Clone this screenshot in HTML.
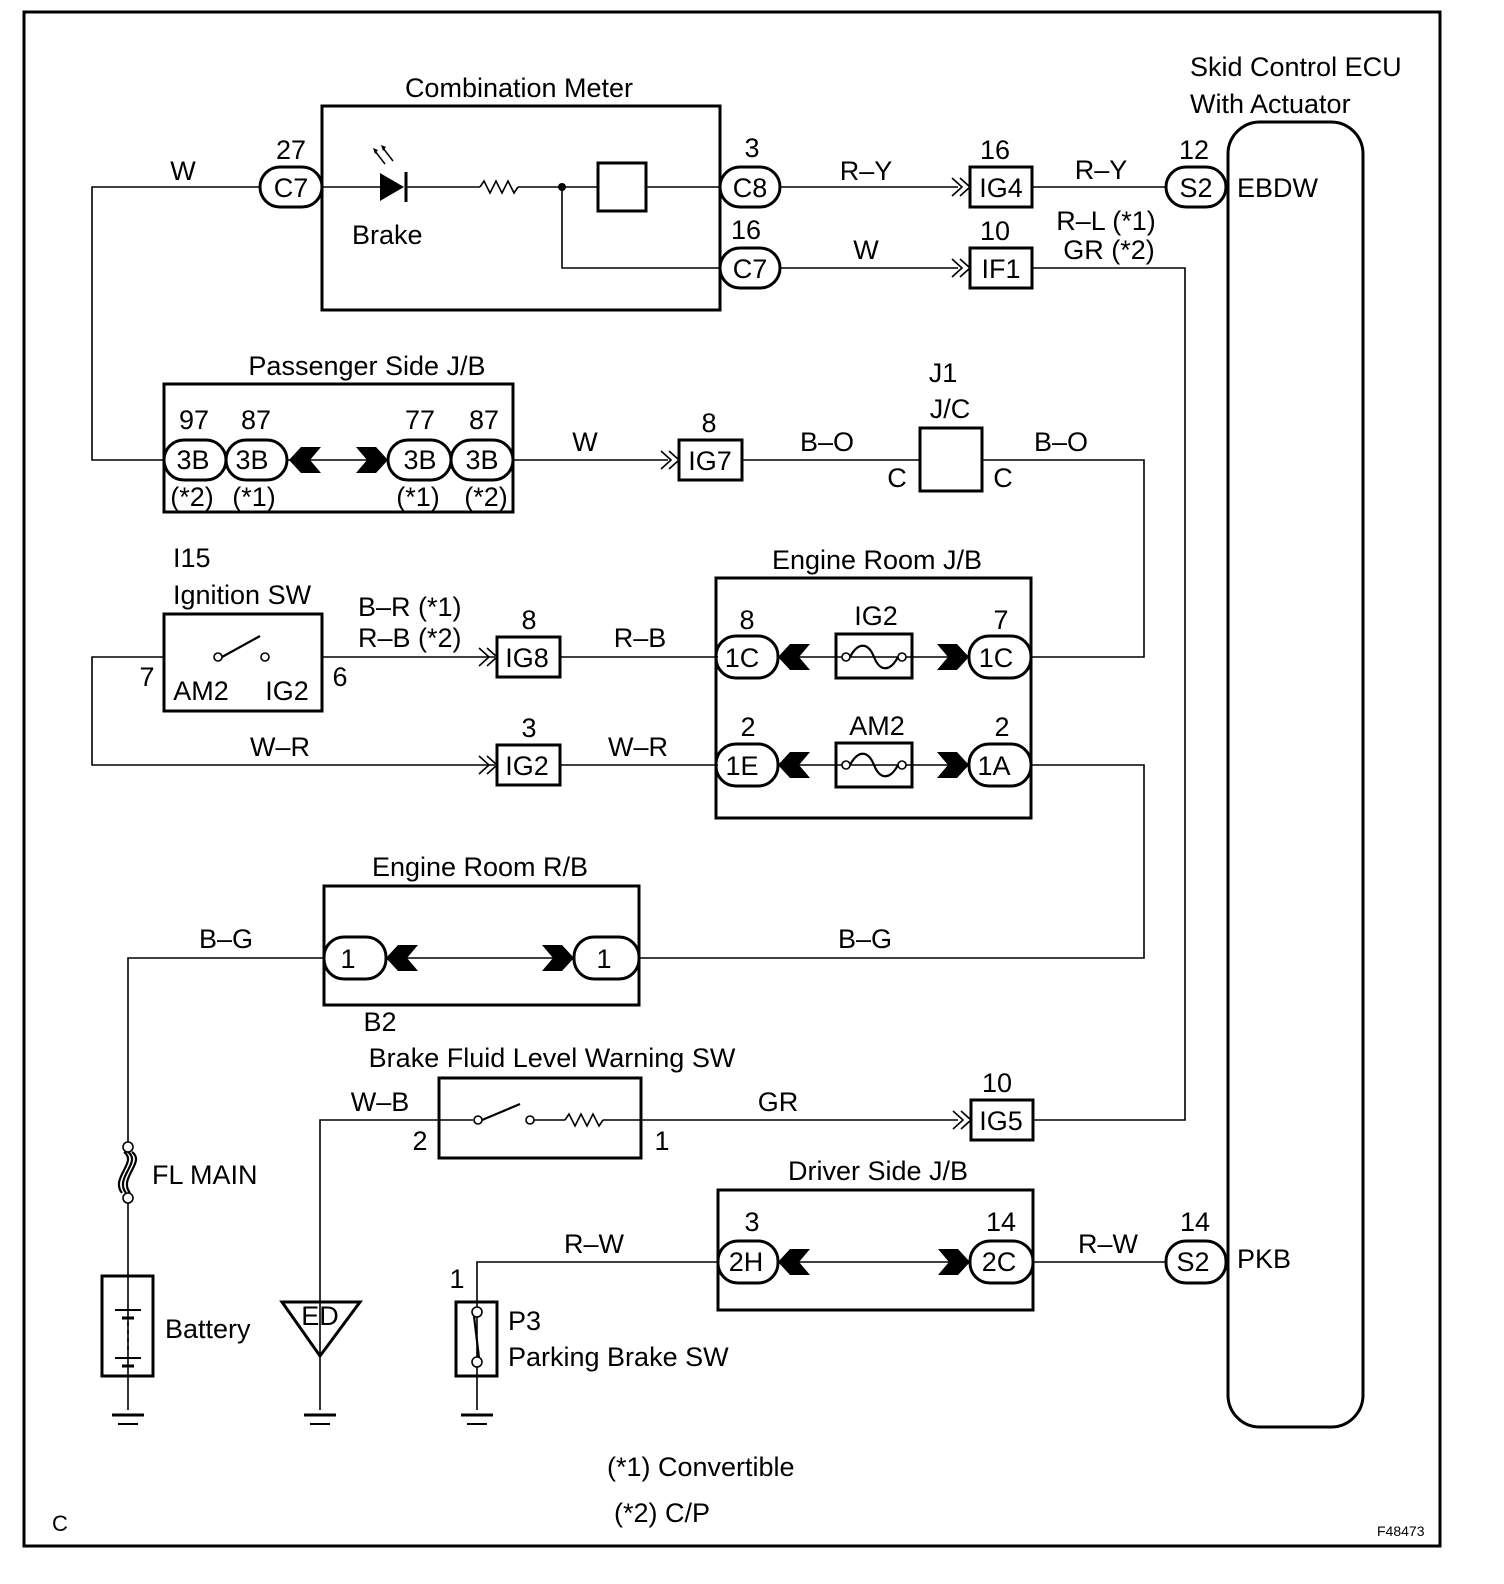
<!DOCTYPE html>
<html><head><meta charset="utf-8"><style>
html,body{margin:0;padding:0;background:#fff;width:1504px;height:1584px;overflow:hidden}
svg{display:block;position:absolute;left:0;top:0}
text{font-family:"Liberation Sans",Arial,sans-serif;font-size:27px;fill:#000}
</style></head><body>
<svg width="1504" height="1584" viewBox="0 0 1504 1584" xmlns="http://www.w3.org/2000/svg">
<defs>
<g id="la"><polygon points="0,0 12,-13 32,-13 21,0 32,13 12,13" fill="#000"/></g>
<g id="ra"><polygon points="0,0 -12,-13 -32,-13 -21,0 -32,13 -12,13" fill="#000"/></g>
<g id="dd"><polyline points="-14,-9 -4,0 -14,9" fill="none" stroke="#000" stroke-width="1.6"/><polyline points="-6,-9 4,0 -6,9" fill="none" stroke="#000" stroke-width="1.6"/></g>
<g id="gnd"><line x1="-16" y1="0" x2="16" y2="0" stroke="#000" stroke-width="3"/><line x1="-10" y1="9" x2="10" y2="9" stroke="#000" stroke-width="2"/></g>
</defs>
<rect x="24" y="12" width="1416" height="1534" fill="none" stroke="#000" stroke-width="3"/>
<g fill="none" stroke="#000" stroke-width="1.6">
<polyline points="260,187 92,187 92,460 164,460"/>
<line x1="322" y1="187" x2="380" y2="187"/>
<line x1="406" y1="187" x2="480" y2="187"/>
<line x1="518" y1="187" x2="598" y2="187"/>
<polyline points="562,187 562,268 720,268"/>
<line x1="646" y1="187" x2="720" y2="187"/>
<line x1="780" y1="187" x2="958" y2="187"/>
<line x1="780" y1="268" x2="958" y2="268"/>
<line x1="1032" y1="187" x2="1166" y2="187"/>
<polyline points="1032,268 1185,268 1185,1120 1033,1120"/>
<line x1="287" y1="460" x2="388" y2="460"/>
<line x1="513" y1="460" x2="668" y2="460"/>
<line x1="742" y1="460" x2="920" y2="460"/>
<polyline points="982,460 1144,460 1144,657 1031,657"/>
<polyline points="164,657 92,657 92,765 495,765"/>
<line x1="322" y1="657" x2="495" y2="657"/>
<line x1="560" y1="657" x2="718" y2="657"/>
<line x1="560" y1="765" x2="718" y2="765"/>
<line x1="778" y1="657" x2="969" y2="657"/>
<line x1="778" y1="765" x2="969" y2="765"/>
<polyline points="1031,765 1144,765 1144,958 639,958"/>
<line x1="386" y1="958" x2="574" y2="958"/>
<polyline points="324,958 128,958 128,1143"/>
<line x1="128" y1="1203" x2="128" y2="1410"/>
<polyline points="439,1120 320,1120 320,1410"/>
<line x1="641" y1="1120" x2="958" y2="1120"/>
<line x1="439" y1="1120" x2="473" y2="1120"/>
<line x1="534" y1="1120" x2="565" y2="1120"/>
<line x1="603" y1="1120" x2="641" y2="1120"/>
<polyline points="718,1262 477,1262 477,1410"/>
<line x1="778" y1="1262" x2="970" y2="1262"/>
<line x1="1033" y1="1262" x2="1166" y2="1262"/>
<polyline points="480,187 484,181 490,193 496,181 502,193 508,181 514,193 518,187"/>
<polyline points="565,1120 569,1114 575,1126 581,1114 587,1126 593,1114 599,1126 603,1120"/>
</g>
<g fill="none" stroke="#000" stroke-width="3">
<rect x="322" y="106" width="398" height="204"/>
<rect x="598" y="163" width="48" height="48"/>
<rect x="970" y="167" width="62" height="40"/>
<rect x="970" y="248" width="62" height="40"/>
<rect x="1228" y="122" width="135" height="1305" rx="32"/>
<rect x="164" y="384" width="349" height="128"/>
<rect x="679" y="440" width="63" height="40"/>
<rect x="920" y="428" width="62" height="63"/>
<rect x="164" y="614" width="158" height="97"/>
<rect x="497" y="637" width="63" height="40"/>
<rect x="497" y="745" width="63" height="40"/>
<rect x="716" y="578" width="315" height="240"/>
<rect x="836" y="634" width="76" height="44"/>
<rect x="836" y="743" width="76" height="44"/>
<rect x="324" y="886" width="315" height="119"/>
<rect x="102" y="1276" width="51" height="100"/>
<rect x="439" y="1078" width="202" height="80"/>
<rect x="971" y="1100" width="62" height="40"/>
<rect x="718" y="1190" width="315" height="120"/>
<rect x="456" y="1302" width="41" height="74"/>
<polygon points="282,1302 360,1302 320,1356"/>
<rect x="260" y="167" width="62" height="40" rx="20"/>
<rect x="720" y="167" width="60" height="40" rx="20"/>
<rect x="720" y="248" width="60" height="40" rx="20"/>
<rect x="1166" y="167" width="60" height="40" rx="20"/>
<rect x="164" y="440" width="62" height="40" rx="20"/>
<rect x="226" y="440" width="61" height="40" rx="20"/>
<rect x="388" y="440" width="63" height="40" rx="20"/>
<rect x="451" y="440" width="62" height="40" rx="20"/>
<rect x="716" y="636" width="62" height="42" rx="20"/>
<rect x="969" y="636" width="62" height="42" rx="20"/>
<rect x="716" y="744" width="62" height="42" rx="20"/>
<rect x="969" y="744" width="62" height="42" rx="20"/>
<rect x="324" y="937" width="62" height="42" rx="20"/>
<rect x="574" y="937" width="65" height="42" rx="20"/>
<rect x="718" y="1241" width="60" height="42" rx="20"/>
<rect x="970" y="1241" width="63" height="42" rx="20"/>
<rect x="1166" y="1241" width="60" height="42" rx="20"/>
</g>
<polygon points="380,173 380,201 404,187" fill="#000"/>
<line x1="406" y1="172" x2="406" y2="202" stroke="#000" stroke-width="3"/>
<g stroke="#000" stroke-width="1.5"><line x1="385" y1="164" x2="375" y2="151"/><line x1="393" y1="161" x2="383" y2="148"/></g>
<polygon points="373,148 378,150 375,154" fill="#000"/><polygon points="381,145 386,147 383,151" fill="#000"/>
<circle cx="562" cy="187" r="4" fill="#000"/>
<use href="#la" x="289" y="460"/><use href="#ra" x="388" y="460"/>
<use href="#la" x="778" y="657"/><use href="#ra" x="969" y="657"/>
<use href="#la" x="778" y="765"/><use href="#ra" x="969" y="765"/>
<use href="#la" x="386" y="958"/><use href="#ra" x="574" y="958"/>
<use href="#la" x="778" y="1262"/><use href="#ra" x="970" y="1262"/>
<use href="#dd" x="966" y="187"/><use href="#dd" x="966" y="268"/>
<use href="#dd" x="675" y="460"/><use href="#dd" x="493" y="657"/>
<use href="#dd" x="493" y="765"/><use href="#dd" x="967" y="1120"/>
<g fill="none" stroke="#000" stroke-width="2.2">
<path d="M850,657 C858,642 868,642 874,657 C880,672 890,672 898,657"/>
<path d="M850,765 C858,750 868,750 874,765 C880,780 890,780 898,765"/>
<path d="M128,1152 C142,1162 114,1178 126,1193 M124,1152 C138,1162 110,1178 122,1193 M132,1152 C146,1162 118,1178 130,1193"/>
<line x1="222" y1="657" x2="260" y2="636"/>
<line x1="482" y1="1120" x2="520" y2="1104"/>
<line x1="474" y1="1316" x2="479" y2="1358"/>
</g>
<g fill="#fff" stroke="#000" stroke-width="1.6">
<circle cx="846" cy="657" r="4"/><circle cx="902" cy="657" r="4"/>
<circle cx="846" cy="765" r="4"/><circle cx="902" cy="765" r="4"/>
<circle cx="128" cy="1147" r="5"/><circle cx="128" cy="1198" r="5"/>
<circle cx="218" cy="657" r="4"/><circle cx="265" cy="657" r="4"/>
<circle cx="478" cy="1120" r="4"/><circle cx="530" cy="1120" r="4"/>
<circle cx="477" cy="1312" r="5"/><circle cx="477" cy="1362" r="5"/>
</g>
<g stroke="#000">
<line x1="115" y1="1310" x2="141" y2="1310" stroke-width="2"/>
<line x1="122" y1="1318" x2="134" y2="1318" stroke-width="3"/>
<line x1="128" y1="1322" x2="128" y2="1352" stroke-width="1.6" stroke-dasharray="4,4"/>
<line x1="115" y1="1358" x2="141" y2="1358" stroke-width="2"/>
<line x1="122" y1="1366" x2="134" y2="1366" stroke-width="3"/>
</g>
<rect x="104" y="1320" width="47" height="0" />
<use href="#gnd" x="128" y="1415"/><use href="#gnd" x="320" y="1415"/><use href="#gnd" x="477" y="1415"/>
<text x="519" y="97" text-anchor="middle">Combination Meter</text>
<text x="183" y="180" text-anchor="middle">W</text>
<text x="291" y="159" text-anchor="middle">27</text>
<text x="291" y="197" text-anchor="middle">C7</text>
<text x="352" y="244">Brake</text>
<text x="752" y="157" text-anchor="middle">3</text>
<text x="750" y="197" text-anchor="middle">C8</text>
<text x="746" y="239" text-anchor="middle">16</text>
<text x="750" y="278" text-anchor="middle">C7</text>
<text x="866" y="180" text-anchor="middle">R–Y</text>
<text x="866" y="259" text-anchor="middle">W</text>
<text x="995" y="159" text-anchor="middle">16</text>
<text x="1001" y="197" text-anchor="middle">IG4</text>
<text x="995" y="240" text-anchor="middle">10</text>
<text x="1001" y="278" text-anchor="middle">IF1</text>
<text x="1101" y="179" text-anchor="middle">R–Y</text>
<text x="1106" y="230" text-anchor="middle">R–L (*1)</text>
<text x="1109" y="259" text-anchor="middle">GR (*2)</text>
<text x="1194" y="159" text-anchor="middle">12</text>
<text x="1196" y="197" text-anchor="middle">S2</text>
<text x="1237" y="197">EBDW</text>
<text x="1190" y="76">Skid Control ECU</text>
<text x="1190" y="113">With Actuator</text>
<text x="367" y="375" text-anchor="middle">Passenger Side J/B</text>
<text x="194" y="429" text-anchor="middle">97</text><text x="256" y="429" text-anchor="middle">87</text>
<text x="420" y="429" text-anchor="middle">77</text><text x="484" y="429" text-anchor="middle">87</text>
<text x="193" y="469" text-anchor="middle">3B</text><text x="252" y="469" text-anchor="middle">3B</text>
<text x="420" y="469" text-anchor="middle">3B</text><text x="482" y="469" text-anchor="middle">3B</text>
<text x="192" y="506" text-anchor="middle">(*2)</text><text x="254" y="506" text-anchor="middle">(*1)</text>
<text x="418" y="506" text-anchor="middle">(*1)</text><text x="486" y="506" text-anchor="middle">(*2)</text>
<text x="585" y="451" text-anchor="middle">W</text>
<text x="709" y="432" text-anchor="middle">8</text>
<text x="710" y="470" text-anchor="middle">IG7</text>
<text x="827" y="451" text-anchor="middle">B–O</text>
<text x="1061" y="451" text-anchor="middle">B–O</text>
<text x="943" y="382" text-anchor="middle">J1</text>
<text x="950" y="418" text-anchor="middle">J/C</text>
<text x="897" y="487" text-anchor="middle">C</text>
<text x="1003" y="487" text-anchor="middle">C</text>
<text x="173" y="567">I15</text>
<text x="173" y="604">Ignition SW</text>
<text x="201" y="700" text-anchor="middle">AM2</text>
<text x="287" y="700" text-anchor="middle">IG2</text>
<text x="147" y="686" text-anchor="middle">7</text>
<text x="340" y="686" text-anchor="middle">6</text>
<text x="358" y="616">B–R (*1)</text>
<text x="358" y="647">R–B (*2)</text>
<text x="529" y="629" text-anchor="middle">8</text>
<text x="527" y="667" text-anchor="middle">IG8</text>
<text x="640" y="647" text-anchor="middle">R–B</text>
<text x="280" y="756" text-anchor="middle">W–R</text>
<text x="529" y="737" text-anchor="middle">3</text>
<text x="527" y="775" text-anchor="middle">IG2</text>
<text x="638" y="756" text-anchor="middle">W–R</text>
<text x="877" y="569" text-anchor="middle">Engine Room J/B</text>
<text x="747" y="629" text-anchor="middle">8</text><text x="742" y="667" text-anchor="middle">1C</text>
<text x="876" y="625" text-anchor="middle">IG2</text>
<text x="1001" y="629" text-anchor="middle">7</text><text x="996" y="667" text-anchor="middle">1C</text>
<text x="748" y="736" text-anchor="middle">2</text><text x="742" y="775" text-anchor="middle">1E</text>
<text x="877" y="735" text-anchor="middle">AM2</text>
<text x="1002" y="736" text-anchor="middle">2</text><text x="994" y="775" text-anchor="middle">1A</text>
<text x="480" y="876" text-anchor="middle">Engine Room R/B</text>
<text x="226" y="948" text-anchor="middle">B–G</text>
<text x="348" y="968" text-anchor="middle">1</text>
<text x="604" y="968" text-anchor="middle">1</text>
<text x="865" y="948" text-anchor="middle">B–G</text>
<text x="380" y="1031" text-anchor="middle">B2</text>
<text x="552" y="1067" text-anchor="middle">Brake Fluid Level Warning SW</text>
<text x="380" y="1111" text-anchor="middle">W–B</text>
<text x="420" y="1150" text-anchor="middle">2</text>
<text x="662" y="1150" text-anchor="middle">1</text>
<text x="778" y="1111" text-anchor="middle">GR</text>
<text x="997" y="1092" text-anchor="middle">10</text>
<text x="1001" y="1130" text-anchor="middle">IG5</text>
<text x="152" y="1184">FL MAIN</text>
<text x="165" y="1338">Battery</text>
<text x="320" y="1325" text-anchor="middle">ED</text>
<text x="878" y="1180" text-anchor="middle">Driver Side J/B</text>
<text x="752" y="1231" text-anchor="middle">3</text><text x="746" y="1271" text-anchor="middle">2H</text>
<text x="1001" y="1231" text-anchor="middle">14</text><text x="999" y="1271" text-anchor="middle">2C</text>
<text x="594" y="1253" text-anchor="middle">R–W</text>
<text x="1108" y="1253" text-anchor="middle">R–W</text>
<text x="1195" y="1231" text-anchor="middle">14</text>
<text x="1193" y="1271" text-anchor="middle">S2</text>
<text x="1237" y="1268">PKB</text>
<text x="457" y="1288" text-anchor="middle">1</text>
<text x="508" y="1330">P3</text>
<text x="508" y="1366">Parking Brake SW</text>
<text x="607" y="1476">(*1) Convertible</text>
<text x="614" y="1522">(*2) C/P</text>
<text x="52" y="1531" style="font-size:22px">C</text>
<text x="1377" y="1536" style="font-size:14px">F48473</text>
</svg>
</body></html>
